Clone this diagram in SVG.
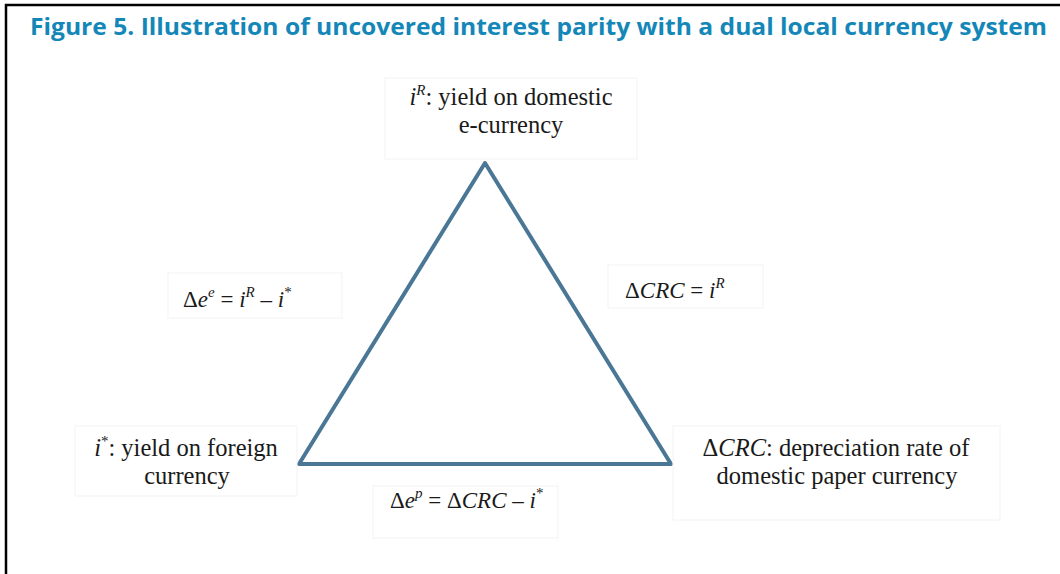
<svg xmlns="http://www.w3.org/2000/svg" width="1060" height="574" viewBox="0 0 1060 574">
<style>
.t{font-family:"Liberation Serif","Times New Roman",serif;font-size:24.5px;fill:#1a1a1a}
.e{font-size:23px}
.i{font-style:italic}
.s{font-size:15px}
.box{fill:none;stroke:#f3f3f3;stroke-width:1}
.title{font-family:"Open Sans","Liberation Sans",sans-serif;font-weight:bold;font-size:24px;fill:#1487b8}
</style>
<rect x="0" y="0" width="1060" height="574" fill="#fff"/>
<path d="M6,574 V5 H1060" fill="none" stroke="#000" stroke-width="2.5"/>
<text class="title" x="30" y="35" textLength="1017" lengthAdjust="spacingAndGlyphs">Figure 5. Illustration of uncovered interest parity with a dual local currency system</text>
<g id="connectors">
<polygon points="485,163 299,464 671,464" fill="none" stroke="#4a7796" stroke-width="4" stroke-linejoin="round"/>
</g>
<g id="node-top">
<rect class="box" x="385" y="78" width="252" height="81"/>
<text class="t" x="511" y="105" text-anchor="middle"><tspan class="i">i</tspan><tspan class="i s" dy="-10">R</tspan><tspan dy="10">: yield on domestic</tspan></text>
<text class="t" x="511" y="133" text-anchor="middle">e-currency</text>
</g>
<g id="node-left-eq">
<rect class="box" x="168" y="273" width="174" height="45"/>
<text class="t e" x="183" y="307">Δ<tspan class="i">e</tspan><tspan class="i s" dy="-10">e</tspan><tspan dy="10"> = </tspan><tspan class="i">i</tspan><tspan class="i s" dy="-10">R</tspan><tspan dy="10"> – </tspan><tspan class="i">i</tspan><tspan class="s" dy="-10">*</tspan></text>
</g>
<g id="node-right-eq">
<rect class="box" x="608" y="265" width="155" height="43"/>
<text class="t e" x="625" y="298">Δ<tspan class="i">CRC</tspan> = <tspan class="i">i</tspan><tspan class="i s" dy="-10">R</tspan></text>
</g>
<g id="node-bottom-left">
<rect class="box" x="75" y="426" width="222" height="70"/>
<text class="t" x="186" y="456" text-anchor="middle"><tspan class="i">i</tspan><tspan class="s" dy="-10">*</tspan><tspan dy="10">: yield on foreign</tspan></text>
<text class="t" x="187" y="484" text-anchor="middle">currency</text>
</g>
<g id="node-bottom-right">
<rect class="box" x="673" y="426" width="327" height="94"/>
<text class="t" x="836" y="456" text-anchor="middle">Δ<tspan class="i">CRC</tspan>: depreciation rate of</text>
<text class="t" x="837" y="484" text-anchor="middle">domestic paper currency</text>
</g>
<g id="node-bottom-eq">
<rect class="box" x="373" y="486" width="185" height="52"/>
<text class="t e" x="390" y="508">Δ<tspan class="i">e</tspan><tspan class="i s" dy="-10">p</tspan><tspan dy="10"> = Δ</tspan><tspan class="i">CRC</tspan> – <tspan class="i">i</tspan><tspan class="s" dy="-10">*</tspan></text>
</g>
</svg>
